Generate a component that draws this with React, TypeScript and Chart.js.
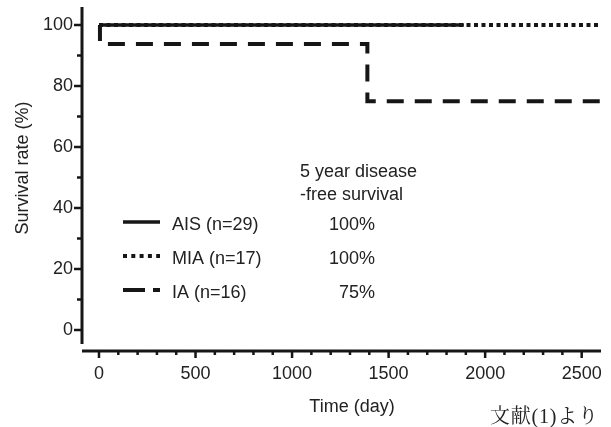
import React, { useEffect, useRef } from 'react';
import { Chart, registerables } from 'chart.js';

Chart.register(...registerables);

// ---- data ----
const seriesNames = ['AIS (n=29)', 'MIA (n=17)', 'IA (n=16)'];
const fiveYearDFS = ['100%', '100%', '75%'];
const dfsHeader = ['5 year disease', '-free survival'];

const aisDays = [0, 1890];
const aisRate = [100, 100];
const miaDays = [0, 2600];
const miaRate = [100, 100];
const iaDays = [0, 5, 1390, 2600];
const iaRate = [100, 93.75, 75, 75];

const xTicks = [0, 500, 1000, 1500, 2000, 2500];
const xMinorTicks = [100, 200, 300, 400, 600, 700, 800, 900, 1100, 1200, 1300, 1400, 1600, 1700, 1800, 1900, 2100, 2200, 2300, 2400];
const yTicks = [0, 20, 40, 60, 80, 100];
const yMinorTicks = [10, 30, 50, 70, 90];

const xTitle = 'Time (day)';
const yTitle = 'Survival rate (%)';
const sourceNote = '文献(1)より';

// ---- styles ----
const FONT = '"Liberation Sans", Arial, Helvetica, sans-serif';
const TEXT = '#222222';
const INK = '#161616';
const plotDash = [[], [4, 3.5], [17, 11]];
const legendDash = [[], [4, 4.3], [22, 8]];
const lineWidths = [3.5, 4, 4];

const toPoints = (xs: number[], ys: number[]) => xs.map((x, i) => ({ x, y: ys[i] }));

const zeroPad = (s: any) => {
  s.paddingTop = 0;
  s.paddingBottom = 0;
  s.paddingLeft = 0;
  s.paddingRight = 0;
};

const axesPlugin = {
  id: 'prismAxes',
  afterDraw(chart: any) {
    const { ctx, chartArea, scales } = chart;
    const xs = scales.x;
    const ys = scales.y;
    ctx.save();
    ctx.strokeStyle = INK;
    ctx.lineCap = 'butt';
    // y axis
    const ax = chartArea.left;
    ctx.lineWidth = 3;
    ctx.beginPath();
    ctx.moveTo(ax, chartArea.top);
    ctx.lineTo(ax, chartArea.bottom);
    ctx.stroke();
    ctx.lineWidth = 2.5;
    ctx.beginPath();
    yTicks.forEach((v) => {
      const p = ys.getPixelForValue(v);
      ctx.moveTo(ax, p);
      ctx.lineTo(ax - 8, p);
    });
    yMinorTicks.forEach((v) => {
      const p = ys.getPixelForValue(v);
      ctx.moveTo(ax, p);
      ctx.lineTo(ax - 5, p);
    });
    ctx.stroke();
    // x axis (offset below)
    const ay = chartArea.bottom + 7;
    ctx.lineWidth = 3;
    ctx.beginPath();
    ctx.moveTo(chartArea.left, ay);
    ctx.lineTo(chartArea.right, ay);
    ctx.stroke();
    ctx.lineWidth = 2.5;
    ctx.beginPath();
    xTicks.forEach((v) => {
      const p = xs.getPixelForValue(v);
      ctx.moveTo(p, ay);
      ctx.lineTo(p, ay + 7);
    });
    xMinorTicks.forEach((v) => {
      const p = xs.getPixelForValue(v);
      ctx.moveTo(p, ay);
      ctx.lineTo(p, ay + 4);
    });
    ctx.stroke();

    // axis titles
    ctx.font = `18px ${FONT}`;
    ctx.fillStyle = TEXT;
    ctx.textBaseline = 'middle';
    ctx.textAlign = 'center';
    ctx.fillText(xTitle, 352, 407);
    ctx.save();
    ctx.translate(23, 168);
    ctx.rotate(-Math.PI / 2);
    ctx.fillText(yTitle, 0, 0);
    ctx.restore();

    // inner legend
    ctx.textAlign = 'left';
    ctx.fillText(dfsHeader[0], 300, 172);
    ctx.fillText(dfsHeader[1], 300, 195);
    const rowY = [225, 259, 293];
    seriesNames.forEach((name, i) => {
      const y = rowY[i];
      ctx.save();
      ctx.strokeStyle = INK;
      ctx.lineWidth = lineWidths[i];
      ctx.setLineDash(legendDash[i]);
      ctx.beginPath();
      ctx.moveTo(123, y - 3);
      ctx.lineTo(160, y - 3);
      ctx.stroke();
      ctx.restore();
      ctx.textAlign = 'left';
      ctx.fillText(name, 172, y);
      ctx.textAlign = 'right';
      ctx.fillText(fiveYearDFS[i], 375, y);
    });
    ctx.restore();
  },
};

export default function App() {
  const ref = useRef<HTMLCanvasElement | null>(null);

  useEffect(() => {
    if (!ref.current) return;
    const mk = (label: string, data: any[], i: number) => ({
      label,
      data,
      borderColor: INK,
      backgroundColor: INK,
      borderWidth: lineWidths[i],
      borderDash: plotDash[i],
      borderCapStyle: 'butt',
      borderJoinStyle: 'miter',
      stepped: 'before',
      pointRadius: 0,
      fill: false,
      tension: 0,
    });
    const chart = new Chart(ref.current, {
      type: 'line',
      data: {
        datasets: [
          mk(seriesNames[0], toPoints(aisDays, aisRate), 0),
          mk(seriesNames[1], toPoints(miaDays, miaRate), 1),
          mk(seriesNames[2], toPoints(iaDays, iaRate), 2),
        ] as any,
      },
      options: {
        responsive: false,
        animation: false,
        events: [],
        layout: { padding: { top: 7, right: 10, left: 0, bottom: 0 } },
        plugins: { legend: { display: false }, tooltip: { enabled: false } },
        scales: {
          x: {
            type: 'linear',
            min: -88,
            max: 2600,
            grid: { display: false, drawTicks: false },
            border: { display: false },
            ticks: {
              padding: 19,
              color: TEXT,
              font: { family: FONT, size: 18 },
              callback: (v: any) => String(v),
            },
            afterBuildTicks: (s: any) => {
              s.ticks = xTicks.map((v) => ({ value: v }));
            },
            afterFit: (s: any) => {
              s.height = 83;
              zeroPad(s);
            },
            title: { display: false },
          },
          y: {
            type: 'linear',
            min: -4.6,
            max: 105.9,
            grid: { display: false, drawTicks: false },
            border: { display: false },
            ticks: {
              padding: 9,
              color: TEXT,
              font: { family: FONT, size: 18 },
              callback: (v: any) => String(v),
            },
            afterBuildTicks: (s: any) => {
              s.ticks = yTicks.map((v) => ({ value: v }));
            },
            afterFit: (s: any) => {
              s.width = 82;
              zeroPad(s);
            },
            title: { display: false },
          },
        },
      } as any,
      plugins: [axesPlugin],
    });
    return () => chart.destroy();
  }, []);

  return (
    <div style={{ position: 'absolute', left: 0, top: 0, width: 611, height: 427, background: '#fff' }}>
      <canvas ref={ref} width={611} height={427} style={{ display: 'block', width: 611, height: 427 }} />
      <span
        style={{
          position: 'absolute',
          left: 490,
          top: 406,
          fontFamily: '"Liberation Serif", "Noto Serif CJK JP", "Noto Sans CJK JP", serif',
          fontSize: 20,
          lineHeight: '20px',
          letterSpacing: '0.8px',
          color: TEXT,
          whiteSpace: 'nowrap',
        }}
      >
        {sourceNote}
      </span>
    </div>
  );
}
